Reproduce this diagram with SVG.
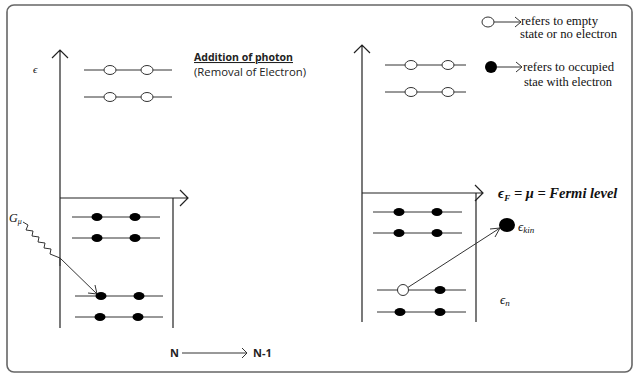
<svg xmlns="http://www.w3.org/2000/svg" width="633" height="375" viewBox="0 0 633 375">
<defs>
<style>
.ln{stroke:#333;stroke-width:1;fill:none}
.ax{stroke:#222;stroke-width:1.2;fill:none}
.e{fill:#fff;stroke:#333;stroke-width:1}
.f{fill:#000}
.sans{font-family:"Open Sans","Liberation Sans",sans-serif;fill:#222}
.ser{font-family:"Liberation Serif","Times New Roman",serif;fill:#111}
.m{font-family:"Liberation Serif","DejaVu Serif",serif;font-style:italic;fill:#111}
</style>
</defs>
<rect x="7" y="5" width="625" height="367" rx="7" fill="#fff" stroke="#666" stroke-width="1.6"/>
<g id="connectors">
<path class="ax" d="M60,328V50M52,58L60,50L68,58"/>
<path class="ax" d="M60,198H188M180,190L188,198L180,206"/>
<path class="ax" d="M173,198V328"/>
<path class="ax" d="M362,322V45M354,53L362,45L370,53"/>
<path class="ax" d="M362,193H483M475,185L483,193L475,201"/>
<path class="ax" d="M476,193V322"/>
<path class="ln" d="M23,222l5,3l-2,5l7,1l-1,5l7,1l-1,5l7,1l-1,5l7,1l-1,5l10,4"/>
<path class="ln" d="M60,258L97,294M88,293L97,294L95,285"/>
<path class="ln" d="M60,258V266"/>
<path class="ln" d="M407,288L500,228M490,229L500,228L495,237"/>
<path class="ln" d="M182,353H247M242,348L247,353L242,358"/>
<path class="ln" d="M494,22H521M515,17L521,22L515,27"/>
<path class="ln" d="M497,67H522M516,62L522,67L516,72"/>
</g>
<g id="left-empty-levels">
<path class="ln" d="M84,70H172M84,97H172"/>
<ellipse class="e" cx="110" cy="70" rx="6" ry="4.5"/>
<ellipse class="e" cx="147" cy="70" rx="6" ry="4.5"/>
<ellipse class="e" cx="110" cy="97" rx="6" ry="4.5"/>
<ellipse class="e" cx="147" cy="97" rx="6" ry="4.5"/>
</g>
<g id="left-filled-levels">
<path class="ln" d="M72,217H160M72,238H160M75,296H163M75,317H163"/>
<ellipse class="f" cx="97" cy="217" rx="5.5" ry="4"/>
<ellipse class="f" cx="135" cy="217" rx="5.5" ry="4"/>
<ellipse class="f" cx="97" cy="238" rx="5.5" ry="4"/>
<ellipse class="f" cx="135" cy="238" rx="5.5" ry="4"/>
<ellipse class="f" cx="101" cy="296" rx="5.5" ry="4"/>
<ellipse class="f" cx="139" cy="296" rx="5.5" ry="4"/>
<ellipse class="f" cx="100" cy="317" rx="5.5" ry="4"/>
<ellipse class="f" cx="138" cy="317" rx="5.5" ry="4"/>
</g>
<g id="right-empty-levels">
<path class="ln" d="M385,65H466M385,92H466"/>
<ellipse class="e" cx="411" cy="65" rx="6" ry="4.5"/>
<ellipse class="e" cx="448" cy="65" rx="6" ry="4.5"/>
<ellipse class="e" cx="411" cy="92" rx="6" ry="4.5"/>
<ellipse class="e" cx="448" cy="92" rx="6" ry="4.5"/>
</g>
<g id="right-filled-levels">
<path class="ln" d="M373,212H462M373,233H462M377,290H466M377,312H466"/>
<ellipse class="f" cx="399" cy="212" rx="5.5" ry="4"/>
<ellipse class="f" cx="437" cy="212" rx="5.5" ry="4"/>
<ellipse class="f" cx="399" cy="233" rx="5.5" ry="4"/>
<ellipse class="f" cx="437" cy="233" rx="5.5" ry="4"/>
<ellipse class="e" cx="403" cy="290" rx="5.5" ry="5.5"/>
<ellipse class="f" cx="440" cy="290" rx="5.5" ry="4"/>
<ellipse class="f" cx="400" cy="312" rx="5.5" ry="4"/>
<ellipse class="f" cx="440" cy="312" rx="5.5" ry="4"/>
</g>
<g id="excited-electron">
<ellipse class="f" cx="507" cy="225" rx="8" ry="7"/>
</g>
<g id="legend">
<ellipse class="e" cx="488" cy="22" rx="6" ry="5"/>
<ellipse class="f" cx="491" cy="67" rx="6" ry="6"/>
<text class="ser" x="521" y="25" font-size="12.5" textLength="77" lengthAdjust="spacingAndGlyphs">refers to empty</text>
<text class="ser" x="520" y="38" font-size="12.5" textLength="97" lengthAdjust="spacingAndGlyphs">state or no electron</text>
<text class="ser" x="523" y="71" font-size="12.5" textLength="91" lengthAdjust="spacingAndGlyphs">refers to occupied</text>
<text class="ser" x="524" y="86" font-size="12.5" textLength="88" lengthAdjust="spacingAndGlyphs">stae with electron</text>
</g>
<g id="labels">
<text class="sans" x="194" y="61" font-size="10.5" font-weight="bold" textLength="99" lengthAdjust="spacingAndGlyphs" text-decoration="underline">Addition of photon</text>
<text class="sans" x="194" y="76" font-size="10.5" textLength="112" lengthAdjust="spacingAndGlyphs">(Removal of Electron)</text>
<text class="m" x="33" y="73" font-size="11">ϵ</text>
<text class="m" x="9" y="222" font-size="12">G<tspan font-size="8" dy="2">μ</tspan></text>
<text class="m" x="498" y="198" font-size="14.5" font-weight="bold">ϵ<tspan font-size="9" dy="3">F</tspan><tspan dy="-3"> = μ = Fermi level</tspan></text>
<text class="m" x="518" y="231" font-size="13">ϵ<tspan font-size="9" dy="2">kin</tspan></text>
<text class="m" x="500" y="304" font-size="13">ϵ<tspan font-size="9" dy="2">n</tspan></text>
<text class="sans" x="170" y="357" font-size="11" font-weight="bold">N</text>
<text class="sans" x="253" y="357" font-size="11" font-weight="bold">N-1</text>
</g>
</svg>
